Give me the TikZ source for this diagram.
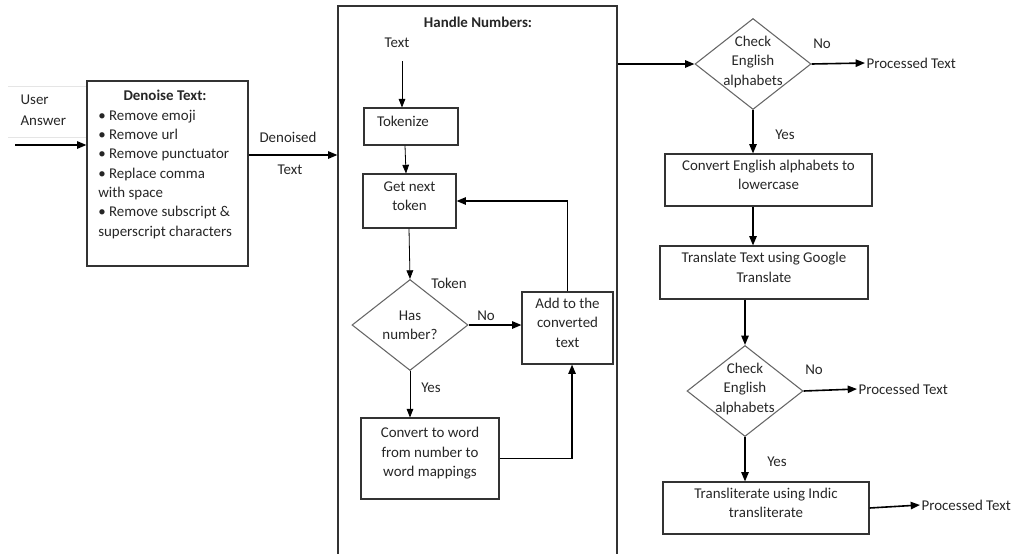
\documentclass[tikz,border=0pt]{standalone}
\usepackage{fontspec}
\setmainfont{Carlito}
\usetikzlibrary{shapes.geometric,fit,arrows.meta,calc}
\begin{document}
\begin{tikzpicture}[x=0.75pt,y=-0.75pt,
  every node/.style={font=\fontsize{11.2}{14.5}\selectfont, text=black!85},
  box/.style={draw=black!80, line width=0.8pt, inner sep=0pt, align=center},
  dia/.style={draw=black!60, line width=0.8pt, diamond, inner sep=0pt,
    minimum width=116*0.75pt, minimum height=91*0.75pt},
  lbl/.style={inner sep=1pt, align=center},
  arr/.style={-{Triangle[length=7pt,width=5.5pt]}, line width=1.2pt, draw=black},
  tarr/.style={-{Triangle[length=6.5pt,width=5pt]}, line width=0.6pt, draw=black}]
\useasboundingbox (0,0) rectangle (1016,553);

% faint text box lines
\draw[gray!20, line width=0.6pt] (8,86) -- (88,86);
\draw[gray!20, line width=0.6pt] (8,137) -- (88,137);
\node[lbl, anchor=west, align=left] (ua) at (19,110) {User\\[1.5pt]Answer};
\coordinate (uin) at (15,145);

% Denoise box
\node[box, fit={(87,81)(248,266)}] (den) {};
\node[anchor=north west, inner sep=0pt, align=left] (dtx) at (98,87) {%
\begin{tabular}{@{}l@{}}
\multicolumn{1}{@{}c@{}}{\textbf{Denoise Text:}}\\
• Remove emoji\\
• Remove url\\
• Remove punctuator\\
• Replace comma\\
with space\\
• Remove subscript \&\\
superscript characters
\end{tabular}};
\draw[arr] (uin) -- (uin -| den.west);

\node[lbl] (dn1) at (288,137) {Denoised};
\node[lbl] (dn2) at (290,170) {Text};
\coordinate (r1) at (0,155);

% Handle numbers box
\node[box, fit={(338,6)(617,580)}] (hn) {};
\node[lbl] (hnt) at (478,22) {\textbf{Handle Numbers:}};
\draw[arr] (r1 -| den.east) -- (r1 -| hn.west);

\node[lbl] (txt) at (397,43) {Text};
\node[box, fit={(364,108)(458,145)}] (tok) {Tokenize\hspace*{12pt}};
\node[box, fit={(363,174)(456,228)}] (get) {Get next\\token};
\node[dia] (has) at (410,325) {};
\node[lbl] at (has) {Has\\number?};
\node[box, fit={(522,292)(613,364)}] (add) {Add to the\\converted\\text};
\node[box, fit={(361,418)(499,499)}] (conv) {Convert to word\\from number to\\word mappings};
\node[lbl] (tokl) at (449,283) {Token};
\node[lbl] (no1) at (486,316) {No};
\node[lbl] (yes1) at (431,388) {Yes};

\draw[tarr] ([yshift=-9pt]txt.south -| 402,0) -- (402,0 |- tok.north);
\draw[tarr] (405,0 |- tok.south) -- (406,0 |- get.north);
\draw[tarr] (409,0 |- get.south) -- (has.north);
\draw[arr] (has.east) -- (has.east -| add.west);
\draw[tarr] (has.south) -- (has.south |- conv.north);
\draw[arr] (conv.east) -| ([xshift=3.4pt]add.south);
\draw[arr] (add.north) |- (get.east);

% right column
\node[dia] (d1) at (753,64) {};
\node[lbl] at ([yshift=1.5pt]d1) {Check\\English\\alphabets};
\node[lbl, anchor=west] (pt1) at (865,63) {Processed Text};
\node[box, fit={(665,154)(872,206)}] (ce) {Convert English alphabets to\\lowercase};
\node[box, fit={(660,246)(868,299)}] (tr) {Translate Text using Google\\Translate};
\node[dia] (d2) at (745,391) {};
\node[lbl] at ([yshift=1.5pt]d2) {Check\\English\\alphabets};
\node[lbl, anchor=west] (pt2) at (857,389) {Processed Text};
\node[box, fit={(663,482)(869,534)}] (tl) {Transliterate using Indic\\transliterate};
\node[lbl, anchor=west] (pt3) at (920,505) {Processed Text};
\node[lbl] (no2) at (822,44) {No};
\node[lbl] (yes2) at (785,135) {Yes};
\node[lbl] (no3) at (814,370) {No};
\node[lbl] (yes3) at (777,462) {Yes};

\draw[arr] (hn.east |- d1.west) -- (d1.west);
\draw[arr] (d1.east) -- (pt1.west);
\draw[arr] (d1.south) -- (d1.south |- ce.north);
\draw[arr] (d1 |- ce.south) -- (d1 |- tr.north);
\draw[arr] (d2 |- tr.south) -- (d2.north);
\draw[arr] (d2.east) -- (pt2.west);
\draw[arr] (d2.south) -- (d2.south |- tl.north);
\draw[arr] (tl.east) -- (pt3.west);
\end{tikzpicture}
\end{document}
